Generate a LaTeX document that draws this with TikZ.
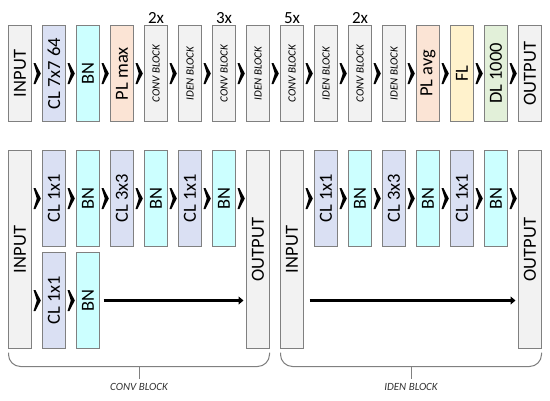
\documentclass[tikz,border=0pt]{standalone}
\usepackage{fontspec}
\setmainfont{Carlito}
\usetikzlibrary{positioning, arrows.meta}

\definecolor{ioclr}{HTML}{F2F2F2}
\definecolor{clclr}{HTML}{DAE0F3}
\definecolor{bnclr}{HTML}{CCFFFF}
\definecolor{plclr}{HTML}{FBE4D5}
\definecolor{flclr}{HTML}{FFF2CC}
\definecolor{dlclr}{HTML}{E2F0D9}
\definecolor{edgeclr}{HTML}{808080}

\newcommand{\uptext}[1]{\rotatebox{90}{#1}}

\tikzset{
  layer/.style={draw=edgeclr, line width=1pt, minimum width=23pt, minimum height=96pt,
    inner sep=0pt, outer sep=0pt, font=\fontsize{18.5}{18.5}\selectfont},
  io/.style={layer, fill=ioclr},
  cl/.style={layer, fill=clclr},
  bn/.style={layer, fill=bnclr},
  pl/.style={layer, fill=plclr},
  fl/.style={layer, fill=flclr},
  dl/.style={layer, fill=dlclr},
  blk/.style={io, font=\fontsize{11}{11}\selectfont\itshape},
  tall/.style={minimum height=198pt},
  rep/.style={font=\fontsize{17}{17}\selectfont, inner sep=1pt},
  shortcut/.style={line width=3.5pt, -{Triangle[length=5pt,width=8pt]}},
  brace/.style={draw=edgeclr, line width=1pt, rounded corners=12pt},
  blklabel/.style={font=\fontsize{11}{11}\selectfont\itshape, text=black!80, inner sep=2pt},
  chev/.pic={\fill (-3.5,-10.5) -- (-1.6,-10.5) -- (3.8,0) -- (-1.6,10.5) -- (-3.5,10.5) -- (-0.2,0) -- cycle;},
}

\begin{document}
\begin{tikzpicture}[x=1pt,y=-1pt]
\useasboundingbox (0,0) rectangle (550,400);

% whole network
\foreach \s/\t [count=\i] in {io/INPUT, cl/{CL 7x7 64}, bn/BN, pl/{PL max},
    blk/{CONV BLOCK}, blk/{IDEN BLOCK}, blk/{CONV BLOCK}, blk/{IDEN BLOCK},
    blk/{CONV BLOCK}, blk/{IDEN BLOCK}, blk/{CONV BLOCK}, blk/{IDEN BLOCK},
    pl/{PL avg}, fl/FL, dl/{DL 1000}, io/OUTPUT}
  \node[\s, anchor=north west] (t\i) at ({8.5+34*(\i-1)},25.5) {\uptext{\t}};
\foreach \i in {1,...,15} {
  \pgfmathtruncatemacro\j{\i+1}
  \path (t\i) -- (t\j) pic[pos=.5]{chev};
}
\node[rep, above=1pt of t5] (r5) {2x};
\node[rep, above=1pt of t7] (r7) {3x};
\node[rep, above=1pt of t9] (r9) {5x};
\node[rep, above=1pt of t11] (r11) {2x};

% conv block
\node[io, tall, anchor=north west] (cin) at (8.5,150.5) {\uptext{INPUT}};
\node[cl, anchor=north west] (ccl1) at ([xshift=11pt]cin.north east) {\uptext{CL 1x1}};
\node[bn, right=11pt of ccl1] (cbn1) {\uptext{BN}};
\node[cl, right=11pt of cbn1] (ccl2) {\uptext{CL 3x3}};
\node[bn, right=11pt of ccl2] (cbn2) {\uptext{BN}};
\node[cl, right=11pt of cbn2] (ccl3) {\uptext{CL 1x1}};
\node[bn, right=11pt of ccl3] (cbn3) {\uptext{BN}};
\node[io, tall, anchor=north west] (cout) at ([xshift=11pt]cbn3.north east) {\uptext{OUTPUT}};
\node[cl, below=6pt of ccl1] (csc) {\uptext{CL 1x1}};
\node[bn, right=11pt of csc] (csb) {\uptext{BN}};

\path (cin.east |- ccl1) -- (ccl1) pic[pos=.5]{chev};
\path (ccl1) -- (cbn1) pic[pos=.5]{chev};
\path (cbn1) -- (ccl2) pic[pos=.5]{chev};
\path (ccl2) -- (cbn2) pic[pos=.5]{chev};
\path (cbn2) -- (ccl3) pic[pos=.5]{chev};
\path (ccl3) -- (cbn3) pic[pos=.5]{chev};
\path (cbn3) -- (cout.west |- cbn3) pic[pos=.5]{chev};
\path (cin.east |- csc) -- (csc) pic[pos=.5]{chev};
\path (csc) -- (csb) pic[pos=.5]{chev};
\draw[shortcut, shorten <=4pt, shorten >=3pt] (csb) -- (cout.west |- csb);

\draw[brace] ([yshift=-4pt]cin.south west) -- ++(0,14)
  -| coordinate[pos=.25] (cbr) ([yshift=-4pt]cout.south east);
\draw[draw=edgeclr, line width=1pt] (cbr) -- ++(0,12) coordinate (ctip);
\node[blklabel, below=3pt of ctip] (clbl) {CONV BLOCK};

% iden block
\node[io, tall, anchor=north west] (iin) at (280.5,150.5) {\uptext{INPUT}};
\node[cl, anchor=north west] (icl1) at ([xshift=11pt]iin.north east) {\uptext{CL 1x1}};
\node[bn, right=11pt of icl1] (ibn1) {\uptext{BN}};
\node[cl, right=11pt of ibn1] (icl2) {\uptext{CL 3x3}};
\node[bn, right=11pt of icl2] (ibn2) {\uptext{BN}};
\node[cl, right=11pt of ibn2] (icl3) {\uptext{CL 1x1}};
\node[bn, right=11pt of icl3] (ibn3) {\uptext{BN}};
\node[io, tall, anchor=north west] (iout) at ([xshift=11pt]ibn3.north east) {\uptext{OUTPUT}};

\path (iin.east |- icl1) -- (icl1) pic[pos=.5]{chev};
\path (icl1) -- (ibn1) pic[pos=.5]{chev};
\path (ibn1) -- (icl2) pic[pos=.5]{chev};
\path (icl2) -- (ibn2) pic[pos=.5]{chev};
\path (ibn2) -- (icl3) pic[pos=.5]{chev};
\path (icl3) -- (ibn3) pic[pos=.5]{chev};
\path (ibn3) -- (iout.west |- ibn3) pic[pos=.5]{chev};
\draw[shortcut, shorten <=6pt, shorten >=3pt] (iin.east |- csb) -- (iout.west |- csb);

\draw[brace] ([yshift=-4pt]iin.south west) -- ++(0,14)
  -| coordinate[pos=.25] (ibr) ([yshift=-4pt]iout.south east);
\draw[draw=edgeclr, line width=1pt] (ibr) -- ++(0,12) coordinate (itip);
\node[blklabel, below=3pt of itip] (ilbl) {IDEN BLOCK};
\end{tikzpicture}
\end{document}
